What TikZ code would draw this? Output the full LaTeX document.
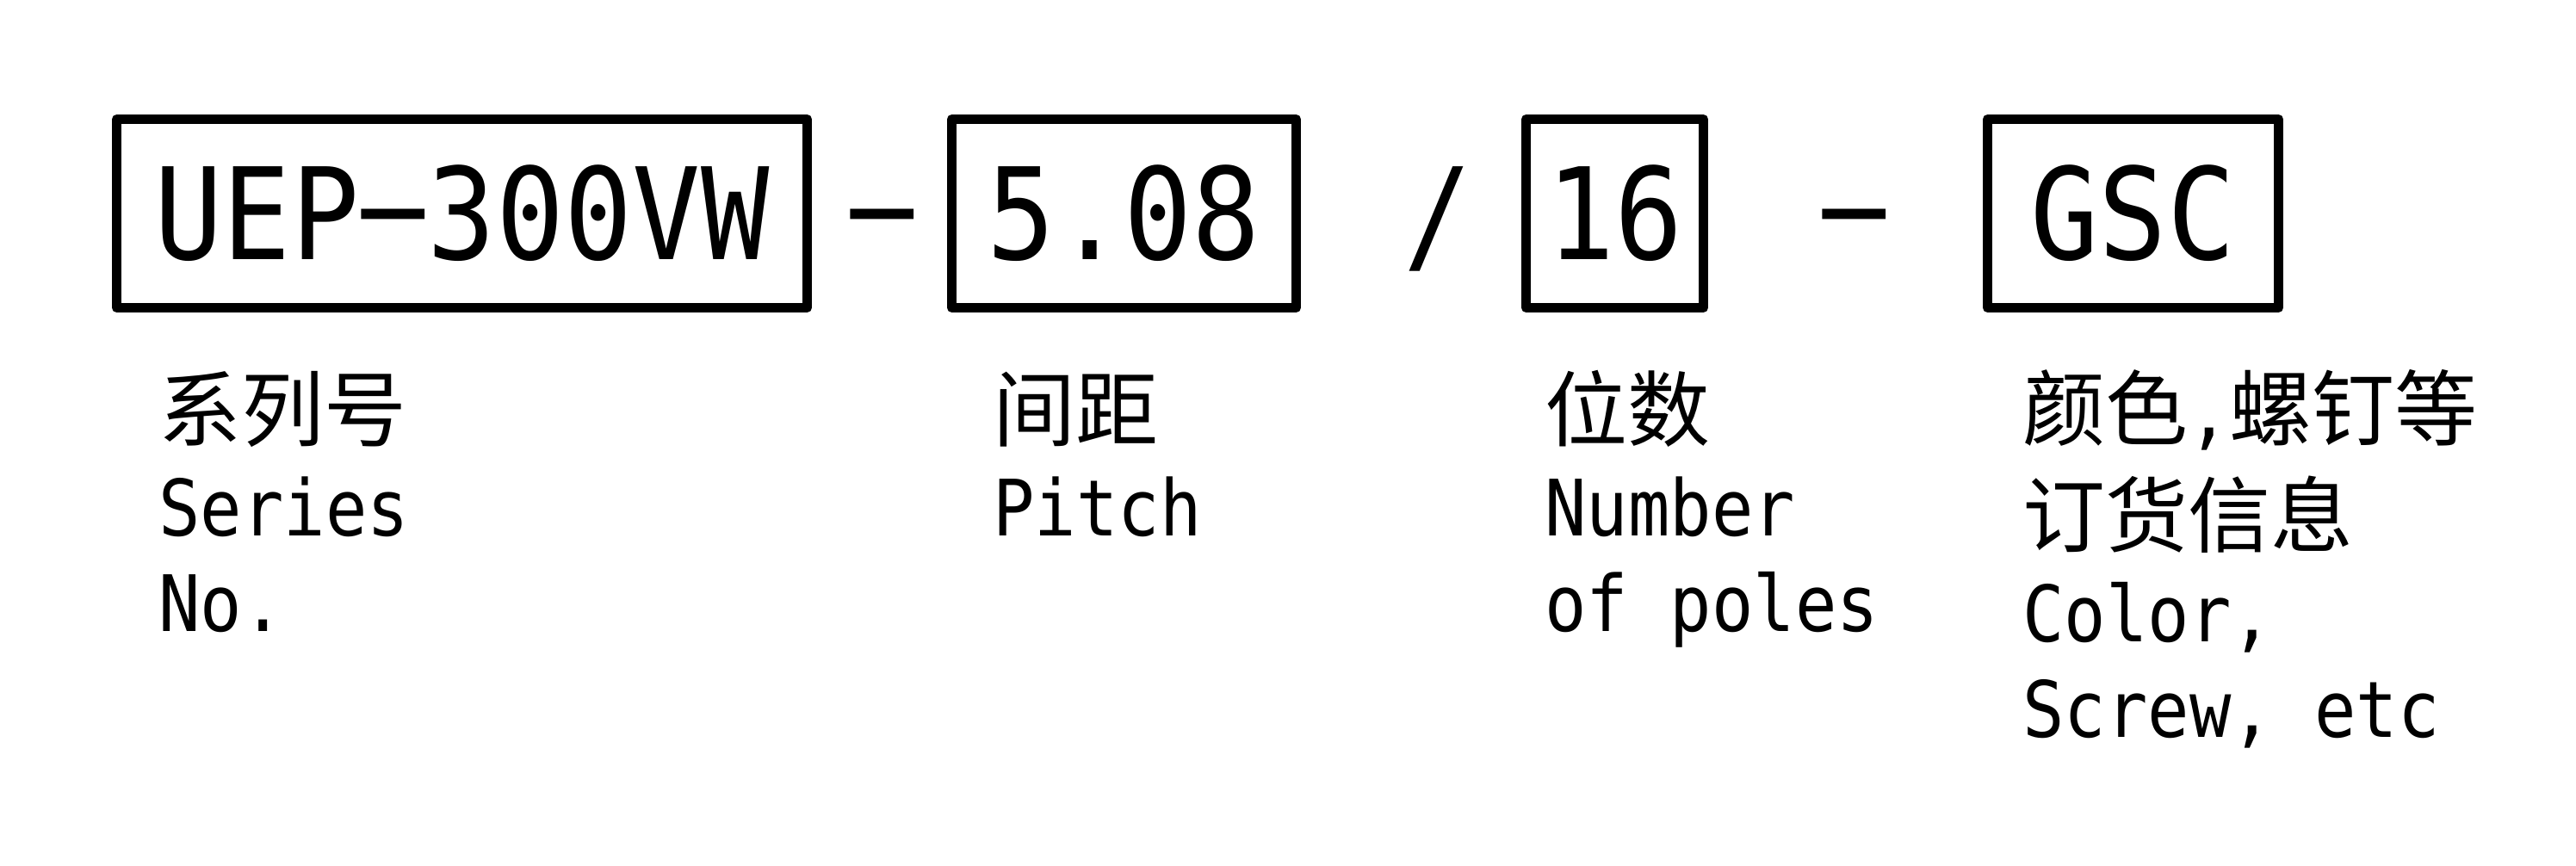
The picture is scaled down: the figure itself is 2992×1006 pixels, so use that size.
\documentclass[tikz,border=0pt]{standalone}
\usepackage{fontspec}
\usepackage{graphicx}
\newfontfamily\monofont[FakeStretch=0.89]{DejaVu Sans Mono}
\newfontfamily\cjkfont{Noto Sans CJK SC}
\newcommand\boxfont{\monofont\fontsize{37}{44}\selectfont}
\newcommand\cnline{\cjkfont\fontsize{24}{27.75}\selectfont}
\newcommand\enline{\monofont\fontsize{22.6}{27.75}\selectfont}
\newcommand\longhy{\makebox[\fontcharwd\font`\-][c]{\raisebox{0.08em}{\scalebox{2.2}[1]{-}}}}

\tikzset{every picture/.style={line width=0.75pt}}

\begin{document}
\begin{tikzpicture}[x=0.25pt,y=0.25pt,yscale=-1,xscale=1,
  codebox/.style={draw,line width=2.75pt,line join=round,inner sep=0pt,minimum height=54.75pt,text height=26.5pt,text depth=0pt,font=\boxfont},
  joiner/.style={inner sep=0pt,anchor=base,font=\boxfont},
  desc/.style={inner sep=0pt,anchor=base west,align=left,font=\fontsize{24}{27.75}\selectfont}]
\useasboundingbox (0,0) rectangle (2992,1006);

%Code boxes
\node [codebox,minimum width=200.5pt] (series) at (536.5,248) {UEP\longhy300VW};
\node [codebox,minimum width=100pt] (pitch) at (1305.5,248) {5.08};
\node [codebox,minimum width=51.5pt] (poles) at (1875.5,248) {16};
\node [codebox,minimum width=84.5pt] (extra) at (2477.5,248) {GSC};

%Joiners between the boxes
\node [joiner] (dashA) at (1025,301) {\longhy};
\node [joiner] (slash) at (1670,301) {/};
\node [joiner] (dashB) at (2154,301) {\longhy};

%Text under the boxes (anchored at the last line)
\node [desc] (seriesdesc) at (183,733) {\cnline 系列号\\\enline Series\\\enline No.};
\node [desc] (pitchdesc) at (1152,622) {\cnline 间距\\\enline Pitch};
\node [desc] (polesdesc) at (1793,733) {\cnline 位数\\\enline Number\\\enline of poles};
\node [desc] (extradesc) at (2348,856) {\cnline 颜色{\enline,}螺钉等\\[3.25pt]\cnline 订货信息\\\enline Color,\\\enline Screw, etc};

\end{tikzpicture}
\end{document}
